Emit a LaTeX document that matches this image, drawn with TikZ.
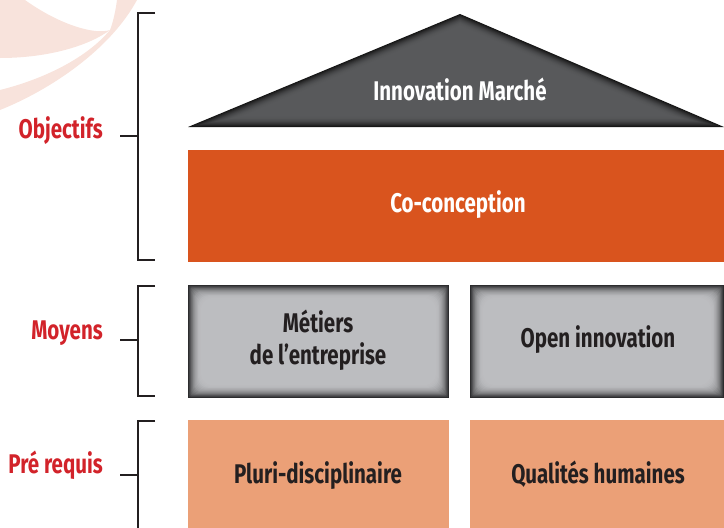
\documentclass[tikz,border=0pt]{standalone}
\usepackage{fontspec}
\setmainfont{Fira Sans}[FakeStretch=0.76]
\usetikzlibrary{calc}
\definecolor{pinkbg}{HTML}{F8E3DC}
\definecolor{redlab}{HTML}{D2232A}
\definecolor{orangebox}{HTML}{D9541E}
\definecolor{salmon}{HTML}{EBA077}
\definecolor{vlight}{HTML}{BCBDC0}
\definecolor{vdark}{HTML}{2A2A2C}
\definecolor{tlight}{HTML}{58595B}
\definecolor{tdark}{HTML}{141414}
\definecolor{ink}{HTML}{231F20}
\newcommand\vigbox[4]{%
  \fill[vdark] (#1,#2) rectangle (#3,#4);
  \foreach \i in {1,...,15}{%
    \pgfmathtruncatemacro\pc{100*(1-(1-\i/15)^2)}%
    \pgfmathsetmacro\rc{\i*0.8}%
    \fill[vlight!\pc!vdark, rounded corners=\rc pt] ({#1+\i*0.85},{#2+\i*0.85}) rectangle ({#3-\i*0.85},{#4-\i*0.85});
  }}
\begin{document}
\begin{tikzpicture}[x=1pt,y=-1pt,
  lab/.style={font=\bfseries\fontsize{27}{32}\selectfont, text=redlab, anchor=base east, inner sep=0},
  boxtext/.style={font=\bfseries\fontsize{27}{32}\selectfont, text=ink, align=center, inner sep=0},
  brk/.style={draw=ink, line width=1.3pt}]
\useasboundingbox (0,0) rectangle (724,528);
% decorative swooshes
\fill[pinkbg] (0,0) -- (25,0) .. controls (60,25) and (95,35) .. (110,30)
   .. controls (90,45) and (50,58) .. (0,58) -- cycle;
\fill[pinkbg] (117,0) -- (137,0) .. controls (110,50) and (50,90) .. (0,110) -- (0,90)
   .. controls (40,80) and (85,60) .. (110,30) .. controls (112,25) and (115,15) .. (117,0) -- cycle;
% brackets
\draw[brk] (155,13) -- (138,13) -- (138,260) -- (155,260);
\draw[brk] (120,136) -- (138,136);
\draw[brk] (155,286) -- (138,286) -- (138,396) -- (155,396);
\draw[brk] (120,340) -- (138,340);
\draw[brk] (155,421) -- (138,421) -- (138,530);
\draw[brk] (120,475) -- (138,475);
% labels
\node[lab] (obj) at (103,138) {Objectifs};
\node[lab] (moy) at (103,339) {Moyens};
\node[lab] (pre) at (103,473) {Pré requis};
% triangle
\coordinate (I) at (459.7,72.8);
\coordinate (A) at (460,14);
\coordinate (B) at (188,127);
\coordinate (C) at (724,127);
\foreach \i in {0,...,14}{%
  \pgfmathsetmacro\s{1-\i*0.75/54.2}%
  \pgfmathtruncatemacro\pc{100*(1-(1-\i/14)^2)}%
  \fill[tlight!\pc!tdark] ($(I)!\s!(A)$) -- ($(I)!\s!(B)$) -- ($(I)!\s!(C)$) -- cycle;
}
\node[boxtext, text=white, anchor=base] (innov) at (460,100) {Innovation Marché};
% orange
\fill[orangebox] (188,150) rectangle (724,262);
\node[boxtext, text=white, anchor=base] (cocon) at (458,212) {Co-conception};
% grey boxes
\vigbox{188}{285}{449}{398}
\vigbox{470}{285}{724}{398}
\node[boxtext] (metiers) at (318,340) {Métiers\\de l’entreprise};
\node[boxtext, anchor=base] (open) at (598,347) {Open innovation};
% salmon boxes
\fill[salmon] (188,420) rectangle (449,528);
\fill[salmon] (470,420) rectangle (724,528);
\node[boxtext, anchor=base] (pluri) at (318,483) {Pluri-disciplinaire};
\node[boxtext, anchor=base] (qual) at (598,483) {Qualités humaines};
\end{tikzpicture}
\end{document}
